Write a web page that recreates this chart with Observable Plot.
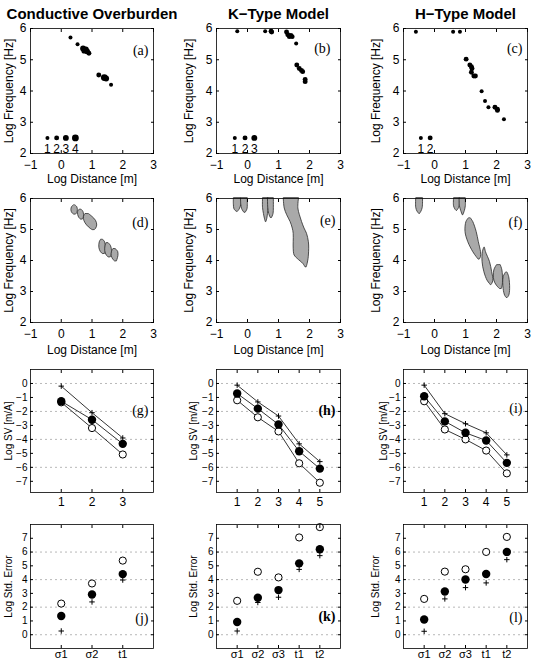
<!DOCTYPE html>
<html>
<head>
<meta charset="utf-8">
<script src="https://cdn.jsdelivr.net/npm/d3@7"></script>
<script src="https://cdn.jsdelivr.net/npm/@observablehq/plot@0.6"></script>
<style>
  html, body { margin: 0; padding: 0; background: #fff; }
  #fig { position: relative; width: 536px; height: 662px; overflow: hidden; }
  .panel { position: absolute; }
  .panel svg { overflow: visible; }
</style>
</head>
<body>
<div id="fig"></div>
<script>
const SANS = "'Liberation Sans', Arial, Helvetica, sans-serif";
const SERIF = "'Liberation Serif', 'Times New Roman', serif";

// ---- labels and ticks ----
const titles = ["Conductive Overburden", "K\u2212Type Model", "H\u2212Type Model"];
const distTicks = [-1, 0, 1, 2, 3];
const freqTicks = [2, 3, 4, 5, 6];
const svTicks = [0, -1, -2, -3, -4, -5, -6, -7];
const svGrid = [0, -2, -4, -6];
const errTicks = [0, 1, 2, 3, 4, 5, 6, 7];
const errGrid = [0, 2, 4, 6];
const paramsOverburden = ["\u03c31", "\u03c32", "t1"];
const paramsLayered = ["\u03c31", "\u03c32", "\u03c33", "t1", "t2"];

// ---- (a)-(c) picked maxima: log distance, log frequency, size class ----
const distA = [0.30, 0.53, 0.71, 0.75, 0.80, 0.84, 0.90, 1.22, 1.40, 1.46, 1.62];
const freqA = [5.71, 5.50, 5.36, 5.29, 5.33, 5.27, 5.21, 4.51, 4.43, 4.40, 4.20];
const sizeA = [1, 1, 3, 3, 3, 3, 2, 2, 4, 3, 1];
const legendDistA = [-0.45, -0.15, 0.15, 0.46];
const legendSizeA = [1, 2, 3, 4];

const distB = [-0.33, 0.57, 0.76, 0.78, 1.26, 1.30, 1.35, 1.40, 1.44, 1.57, 1.59, 1.67, 1.74, 1.78, 1.86, 1.86];
const freqB = [5.91, 5.91, 5.91, 5.89, 5.89, 5.80, 5.74, 5.78, 5.74, 5.52, 4.83, 4.72, 4.66, 4.62, 4.37, 4.30];
const sizeB = [1, 1, 2, 2, 2, 2, 2, 2, 2, 1, 2, 2, 2, 2, 2, 2];
const legendDistB = [-0.41, -0.08, 0.22];
const legendSizeB = [1, 2, 3];

const distC = [-0.60, 0.60, 0.82, 1.02, 1.14, 1.19, 1.21, 1.19, 1.27, 1.32, 1.52, 1.63, 1.74, 1.95, 2.03, 2.03, 2.24];
const freqC = [5.90, 5.90, 5.90, 5.02, 4.83, 4.78, 4.72, 4.60, 4.48, 4.48, 3.99, 3.68, 3.48, 3.48, 3.42, 3.38, 3.10];
const sizeC = [1, 1, 1, 2, 2, 2, 2, 2, 2, 2, 1, 1, 1, 2, 2, 2, 1];
const legendDistC = [-0.44, -0.14];
const legendSizeC = [1, 2];
const legendFreq = 2.5;

// ---- (d)-(f) shaded regions, rows of [log frequency, left distance, right distance] ----
const regionsD = [
  [[5.77, 0.40, 0.47], [5.72, 0.35, 0.52], [5.62, 0.33, 0.54], [5.53, 0.36, 0.52], [5.48, 0.42, 0.48]],
  [[5.63, 0.59, 0.67], [5.57, 0.55, 0.72], [5.47, 0.55, 0.74], [5.37, 0.59, 0.73], [5.32, 0.64, 0.70]],
  [[5.49, 0.78, 0.91], [5.41, 0.74, 1.01], [5.28, 0.75, 1.13], [5.13, 0.84, 1.17], [5.02, 0.96, 1.13], [4.98, 1.02, 1.09]],
  [[4.66, 1.29, 1.37], [4.58, 1.25, 1.43], [4.40, 1.24, 1.45], [4.27, 1.29, 1.45], [4.21, 1.35, 1.42]],
  [[4.55, 1.47, 1.55], [4.46, 1.44, 1.62], [4.30, 1.43, 1.65], [4.16, 1.48, 1.64], [4.10, 1.54, 1.61]],
  [[4.36, 1.69, 1.78], [4.28, 1.65, 1.85], [4.15, 1.64, 1.86], [4.03, 1.69, 1.83], [3.97, 1.75, 1.81]]
];
const regionsE = [
  [[6.0, -0.44, -0.21], [5.8, -0.44, -0.20], [5.65, -0.42, -0.25], [5.57, -0.35, -0.31]],
  [[6.0, -0.21, 0.01], [5.8, -0.20, 0.01], [5.65, -0.17, 0.00], [5.54, -0.10, -0.06]],
  [[6.0, 0.50, 0.68], [5.7, 0.50, 0.68], [5.5, 0.53, 0.66], [5.35, 0.56, 0.64], [5.24, 0.59, 0.61]],
  [[6.0, 0.66, 0.85], [5.7, 0.67, 0.85], [5.5, 0.70, 0.84], [5.37, 0.75, 0.79]],
  [[6.0, 1.17, 1.66], [5.68, 1.20, 1.64], [5.46, 1.28, 1.69], [5.24, 1.39, 1.76], [5.03, 1.46, 1.84],
   [4.86, 1.49, 1.92], [4.59, 1.49, 1.98], [4.38, 1.49, 1.99], [4.16, 1.52, 1.98], [4.05, 1.62, 1.97],
   [3.89, 1.80, 1.94], [3.78, 1.87, 1.91]]
];
const regionsF = [
  [[6.0, -0.59, -0.37], [5.7, -0.59, -0.38], [5.58, -0.55, -0.42], [5.5, -0.49, -0.47]],
  [[6.0, 0.63, 0.82], [5.75, 0.63, 0.81], [5.65, 0.67, 0.77], [5.6, 0.71, 0.73]],
  [[6.0, 0.81, 1.01], [5.75, 0.82, 1.01], [5.6, 0.86, 0.98], [5.46, 0.91, 0.93]],
  [[5.35, 1.10, 1.18], [5.24, 1.03, 1.25], [4.92, 1.00, 1.36], [4.59, 1.09, 1.43], [4.27, 1.25, 1.50], [4.11, 1.36, 1.50], [4.03, 1.42, 1.46]],
  [[4.40, 1.60, 1.63], [4.27, 1.56, 1.66], [3.95, 1.55, 1.79], [3.62, 1.61, 1.86], [3.35, 1.71, 1.90], [3.24, 1.79, 1.86], [3.20, 1.82, 1.83]],
  [[3.84, 2.01, 2.14], [3.68, 1.93, 2.19], [3.35, 1.93, 2.21], [3.19, 2.01, 2.20], [3.08, 2.11, 2.17]],
  [[3.60, 2.30, 2.36], [3.46, 2.23, 2.41], [3.08, 2.23, 2.44], [2.86, 2.28, 2.41], [2.79, 2.33, 2.36]]
];

// ---- (g)-(i) log SV at each station: plus, filled and open series ----
const svPlusG = [-0.19, -2.09, -3.90];
const svFilledG = [-1.27, -2.59, -4.32];
const svOpenG = [-1.35, -3.19, -5.08];
const svPlusH = [-0.12, -1.32, -2.33, -4.32, -5.59];
const svFilledH = [-0.72, -1.80, -2.93, -4.85, -6.09];
const svOpenH = [-1.20, -2.42, -3.43, -5.71, -7.10];
const svPlusI = [-0.12, -2.16, -2.88, -3.53, -5.11];
const svFilledI = [-0.91, -2.71, -3.53, -4.08, -5.68];
const svOpenI = [-1.27, -3.29, -4.00, -4.80, -6.43];

// ---- (j)-(l) log standard error of each parameter ----
const errOpenJ = [2.26, 3.72, 5.38];
const errFilledJ = [1.36, 2.92, 4.40];
const errPlusJ = [0.27, 2.38, 3.97];
const errOpenK = [2.46, 4.57, 4.16, 7.06, 7.81];
const errFilledK = [0.92, 2.68, 3.24, 5.18, 6.20];
const errPlusK = [0.27, 2.34, 2.72, 4.74, 5.74];
const errOpenL = [2.60, 4.58, 4.75, 6.01, 7.10];
const errFilledL = [1.11, 3.14, 4.01, 4.41, 6.01];
const errPlusL = [0.25, 2.60, 3.42, 3.76, 5.45];

// ---- layout of the plot frames on the page ----
const cols = [{left: 30, width: 123}, {left: 216, width: 124}, {left: 403, width: 124}];
const rows = [{top: 28, height: 125}, {top: 198, height: 124}, {top: 369, height: 123}, {top: 524, height: 124}];

const fig = document.getElementById("fig");

function picks(dist, freq, size) {
  return dist.map((d, i) => ({dist: d, freq: freq[i], size: size[i]}));
}
function legendRows(dist, size) {
  return dist.map((d, i) => ({dist: d, freq: legendFreq, size: size[i]}));
}
function series(values) {
  return values.map((v, i) => ({k: i + 1, v}));
}
const intFormat = d => d3.format("d")(d).replace("-", "\u2212");

function panel(o) {
  const m = {left: 40, top: o.title ? 28 : 6, right: 8, bottom: 40};
  const col = cols[o.col], row = rows[o.row];
  const marks = [];
  if (o.grid) marks.push(Plot.ruleY(o.grid, {stroke: "#9a9a9a", strokeWidth: 0.7, strokeDasharray: "2,3"}));
  marks.push(...o.marks);
  marks.push(Plot.frame({stroke: "black", strokeWidth: 0.8}));
  marks.push(Plot.axisX({
    ticks: o.xTicks, tickFormat: o.xFormat, tickSize: -3, tickPadding: o.xPad ?? 10,
    fontSize: o.xFont ?? 12, fontFamily: SANS,
    label: o.xLabel ?? null, labelAnchor: "center", labelOffset: o.xLabelOffset ?? 29, labelArrow: "none"
  }));
  marks.push(Plot.axisX({anchor: "top", ticks: o.xTicks, tickSize: -3, tickFormat: () => "", label: null}));
  marks.push(Plot.axisY({
    ticks: o.yTicks, tickFormat: intFormat, tickSize: -3, tickPadding: o.yPad ?? 7,
    fontSize: o.yFont ?? 12, fontFamily: SANS,
    label: o.yLabel, labelAnchor: "center", labelOffset: o.yLabelOffset, labelArrow: "none"
  }));
  marks.push(Plot.axisY({anchor: "right", ticks: o.yTicks, tickSize: -3, tickFormat: () => "", label: null}));
  marks.push(Plot.text([o.tag], {
    frameAnchor: o.tagBottom ? "bottom-right" : "top-right", textAnchor: "end",
    dx: o.tagDx ?? -5, dy: o.tagDy, fontFamily: SERIF, fontSize: 14,
    fontWeight: o.tagBold ? "bold" : "normal"
  }));
  if (o.title) {
    marks.push(Plot.text([o.title], {
      frameAnchor: "top", lineAnchor: "bottom", dy: -10,
      fontFamily: SANS, fontSize: 15, fontWeight: "bold"
    }));
  }
  const chart = Plot.plot({
    width: m.left + col.width + m.right,
    height: m.top + row.height + m.bottom,
    marginLeft: m.left, marginTop: m.top, marginRight: m.right, marginBottom: m.bottom,
    style: {background: "transparent", overflow: "visible", maxWidth: "none", fontFamily: SANS, color: "black"},
    x: {domain: o.xDomain},
    y: {domain: o.yDomain},
    r: o.rScale,
    marks
  });
  const div = document.createElement("div");
  div.className = "panel";
  div.style.left = (col.left - m.left) + "px";
  div.style.top = (row.top - m.top) + "px";
  div.appendChild(chart);
  fig.appendChild(div);
}

const sizeScale = {type: "linear", domain: [1, 4], range: [2, 3.4]};

function pickMarks(dist, freq, size, lDist, lSize) {
  const leg = legendRows(lDist, lSize);
  return [
    Plot.dot(picks(dist, freq, size), {x: "dist", y: "freq", r: "size", fill: "black"}),
    Plot.dot(leg, {x: "dist", y: "freq", r: "size", fill: "black"}),
    Plot.text(leg, {x: "dist", y: "freq", text: d => String(d.size), dy: 11, fontSize: 12, fontFamily: SANS})
  ];
}

function regionMarks(regions) {
  return regions.map(r => Plot.areaX(r, {
    y: d => d[0], x1: d => d[1], x2: d => d[2],
    curve: "catmull-rom", fill: "#a9a9a9", stroke: "#2a2a2a", strokeWidth: 0.8
  }));
}

const plusStyle = {x: "k", y: "v", r: 1.9, symbol: "plus", stroke: "black", strokeWidth: 1};

function svMarks(plus, filled, open) {
  const line = {x: "k", y: "v", stroke: "black", strokeWidth: 0.8};
  return [
    Plot.line(series(plus), line),
    Plot.line(series(filled), line),
    Plot.line(series(open), line),
    Plot.dot(series(open), {x: "k", y: "v", r: 3.6, fill: "white", stroke: "black", strokeWidth: 1}),
    Plot.dot(series(filled), {x: "k", y: "v", r: 4.2, fill: "black"}),
    Plot.dot(series(plus), plusStyle)
  ];
}

function errMarks(plus, filled, open) {
  return [
    Plot.dot(series(open), {x: "k", y: "v", r: 3.6, fill: "white", stroke: "black", strokeWidth: 1}),
    Plot.dot(series(filled), {x: "k", y: "v", r: 4.2, fill: "black"}),
    Plot.dot(series(plus), plusStyle)
  ];
}

const freqLabel = "Log Frequency [Hz]";
const distLabel = "Log Distance [m]";
const common12 = {xDomain: [-1, 3], yDomain: [2, 6], xTicks: distTicks, xFormat: intFormat,
  yTicks: freqTicks, yLabel: freqLabel, xLabel: distLabel};

// Row 1: picked maxima
panel({...common12, col: 0, row: 0, title: titles[0], tag: "(a)", tagDy: 17, yLabelOffset: 26, rScale: sizeScale,
  marks: pickMarks(distA, freqA, sizeA, legendDistA, legendSizeA)});
panel({...common12, col: 1, row: 0, title: titles[1], tag: "(b)", tagDy: 15, tagDx: -10, yLabelOffset: 32, rScale: sizeScale,
  marks: pickMarks(distB, freqB, sizeB, legendDistB, legendSizeB)});
panel({...common12, col: 2, row: 0, title: titles[2], tag: "(c)", tagDy: 15, yLabelOffset: 32, rScale: sizeScale,
  marks: pickMarks(distC, freqC, sizeC, legendDistC, legendSizeC)});

// Row 2: shaded regions
panel({...common12, col: 0, row: 1, tag: "(d)", tagDy: 19, yLabelOffset: 26, xLabelOffset: 31, marks: regionMarks(regionsD)});
panel({...common12, col: 1, row: 1, tag: "(e)", tagDy: 17, yLabelOffset: 32, xLabelOffset: 31, marks: regionMarks(regionsE)});
panel({...common12, col: 2, row: 1, tag: "(f)", tagDy: 19, yLabelOffset: 32, xLabelOffset: 31, marks: regionMarks(regionsF)});

// Row 3: log SV
const svLabel = "Log SV [m/A]";
panel({col: 0, row: 2, xDomain: [0, 4], yDomain: [-7.8, 1], xTicks: [1, 2, 3], xFormat: d => String(d), xPad: 8,
  yTicks: svTicks, yFont: 10, yPad: 6, yLabel: svLabel, yLabelOffset: 26, grid: svGrid,
  tag: "(g)", tagDy: 36, marks: svMarks(svPlusG, svFilledG, svOpenG)});
panel({col: 1, row: 2, xDomain: [0, 6], yDomain: [-7.8, 1], xTicks: [1, 2, 3, 4, 5], xFormat: d => String(d), xPad: 8,
  yTicks: svTicks, yFont: 10, yPad: 6, yLabel: svLabel, yLabelOffset: 27, grid: svGrid,
  tag: "(h)", tagDy: 36, tagBold: true, marks: svMarks(svPlusH, svFilledH, svOpenH)});
panel({col: 2, row: 2, xDomain: [0, 6], yDomain: [-7.8, 1], xTicks: [1, 2, 3, 4, 5], xFormat: d => String(d), xPad: 8,
  yTicks: svTicks, yFont: 10, yPad: 6, yLabel: svLabel, yLabelOffset: 24, grid: svGrid,
  tag: "(i)", tagDy: 34, marks: svMarks(svPlusI, svFilledI, svOpenI)});

// Row 4: log standard errors
const errLabel = "Log Std. Error";
panel({col: 0, row: 3, xDomain: [0, 4], yDomain: [-1, 8], xTicks: [1, 2, 3], xFormat: d => paramsOverburden[d - 1],
  xFont: 11, xPad: 5,
  yTicks: errTicks, yFont: 10, yPad: 6, yLabel: errLabel, yLabelOffset: 26, grid: errGrid,
  tag: "(j)", tagBottom: true, tagDy: -26, marks: errMarks(errPlusJ, errFilledJ, errOpenJ)});
panel({col: 1, row: 3, xDomain: [0, 6], yDomain: [-1, 8], xTicks: [1, 2, 3, 4, 5], xFormat: d => paramsLayered[d - 1],
  xFont: 11, xPad: 5,
  yTicks: errTicks, yFont: 10, yPad: 6, yLabel: errLabel, yLabelOffset: 27, grid: errGrid,
  tag: "(k)", tagBottom: true, tagDy: -28, tagBold: true, marks: errMarks(errPlusK, errFilledK, errOpenK)});
panel({col: 2, row: 3, xDomain: [0, 6], yDomain: [-1, 8], xTicks: [1, 2, 3, 4, 5], xFormat: d => paramsLayered[d - 1],
  xFont: 11, xPad: 5,
  yTicks: errTicks, yFont: 10, yPad: 6, yLabel: errLabel, yLabelOffset: 32, grid: errGrid,
  tag: "(l)", tagBottom: true, tagDy: -27, marks: errMarks(errPlusL, errFilledL, errOpenL)});
</script>
</body>
</html>
